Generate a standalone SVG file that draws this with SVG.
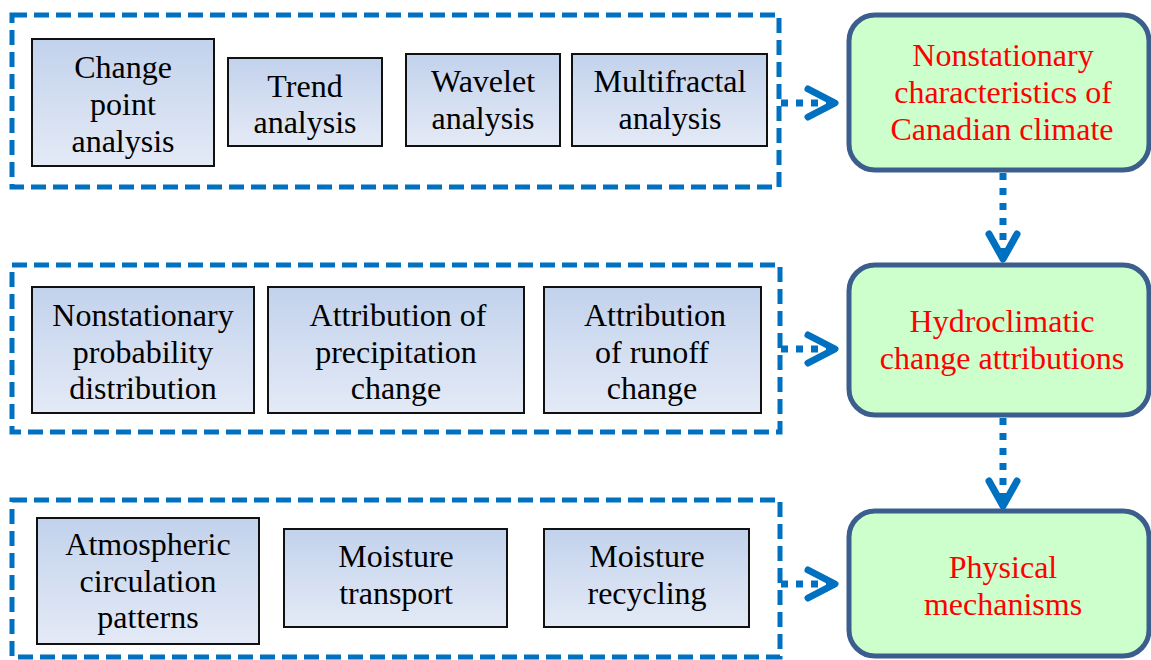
<svg xmlns="http://www.w3.org/2000/svg" width="1151" height="660" viewBox="0 0 1151 660" font-family="Liberation Serif, serif">
<defs>
<linearGradient id="bg" x1="0" y1="0" x2="0" y2="1">
<stop offset="0" stop-color="#c2d2ec"/>
<stop offset="1" stop-color="#e4eaf6"/>
</linearGradient>
</defs>
<style>
.grp{fill:none;stroke:#0070c0;stroke-width:5;stroke-dasharray:15 7}
.box{fill:url(#bg);stroke:#111;stroke-width:2}
.res{fill:#ccffcc;stroke:#3b5e8c;stroke-width:5}
.t{font-size:32px;text-anchor:middle;fill:#000}
.r{fill:#ff0000}
.dot{fill:none;stroke:#0070c0;stroke-width:7;stroke-dasharray:7 8}
.head{fill:none;stroke:#0070c0;stroke-width:7;stroke-linecap:round;stroke-linejoin:round}
</style>
<g id="group1"><rect class="grp" x="12" y="15" width="767" height="172"/></g>
<g id="group2"><rect class="grp" x="12" y="265" width="768" height="167"/></g>
<g id="group3"><rect class="grp" x="12" y="500" width="768" height="157"/></g>

<g id="n-changepoint"><rect class="box" x="32" y="39" width="182" height="127"/>
<text class="t" x="123" y="78">Change</text><text class="t" x="123" y="115">point</text><text class="t" x="123" y="152">analysis</text></g>
<g id="n-trend"><rect class="box" x="228" y="58" width="154" height="88"/>
<text class="t" x="305" y="97">Trend</text><text class="t" x="305" y="133">analysis</text></g>
<g id="n-wavelet"><rect class="box" x="406" y="54" width="154" height="92"/>
<text class="t" x="483" y="92">Wavelet</text><text class="t" x="483" y="129">analysis</text></g>
<g id="n-multifractal"><rect class="box" x="572" y="54" width="195" height="92"/>
<text class="t" x="670" y="92">Multifractal</text><text class="t" x="670" y="129">analysis</text></g>

<g id="n-npd"><rect class="box" x="32" y="287" width="222" height="126"/>
<text class="t" x="143" y="326">Nonstationary</text><text class="t" x="143" y="363">probability</text><text class="t" x="143" y="399">distribution</text></g>
<g id="n-precip"><rect class="box" x="268" y="287" width="256" height="126"/>
<text class="t" x="398" y="326">Attribution of</text><text class="t" x="396" y="363">precipitation</text><text class="t" x="396" y="399">change</text></g>
<g id="n-runoff"><rect class="box" x="544" y="287" width="217" height="126"/>
<text class="t" x="655" y="326">Attribution</text><text class="t" x="652" y="363">of runoff</text><text class="t" x="652" y="399">change</text></g>

<g id="n-atmos"><rect class="box" x="37" y="518" width="222" height="126"/>
<text class="t" x="148" y="555">Atmospheric</text><text class="t" x="148" y="592">circulation</text><text class="t" x="148" y="628">patterns</text></g>
<g id="n-transport"><rect class="box" x="284" y="529" width="223" height="98"/>
<text class="t" x="396" y="567">Moisture</text><text class="t" x="396" y="604">transport</text></g>
<g id="n-recycling"><rect class="box" x="544" y="529" width="205" height="98"/>
<text class="t" x="647" y="567">Moisture</text><text class="t" x="647" y="604">recycling</text></g>

<g id="n-nonstat"><rect class="res" x="849" y="15" width="300" height="155" rx="26"/>
<text class="t r" x="1003" y="66">Nonstationary</text><text class="t r" x="1003" y="103">characteristics of</text><text class="t r" x="1002" y="140">Canadian climate</text></g>
<g id="n-attrib"><rect class="res" x="849" y="265" width="300" height="150" rx="26"/>
<text class="t r" x="1002" y="332">Hydroclimatic</text><text class="t r" x="1002" y="369">change attributions</text></g>
<g id="n-phys"><rect class="res" x="849" y="511" width="300" height="145" rx="26"/>
<text class="t r" x="1003" y="578">Physical</text><text class="t r" x="1003" y="615">mechanisms</text></g>

<g id="connectors">
<line class="dot" x1="781" y1="103" x2="830" y2="103"/>
<polyline class="head" points="808,89 835,103 808,117"/>
<line class="dot" x1="781" y1="349" x2="830" y2="349"/>
<polyline class="head" points="808,335 835,349 808,363"/>
<line class="dot" x1="781" y1="584" x2="830" y2="584"/>
<polyline class="head" points="808,570 835,584 808,598"/>
<line class="dot" x1="1003" y1="173" x2="1003" y2="256"/>
<polyline class="head" points="989,234 1003,259 1017,234"/>
<line class="dot" x1="1003" y1="418" x2="1003" y2="502"/>
<polyline class="head" points="989,481 1003,506 1017,481"/>
</g>
</svg>
